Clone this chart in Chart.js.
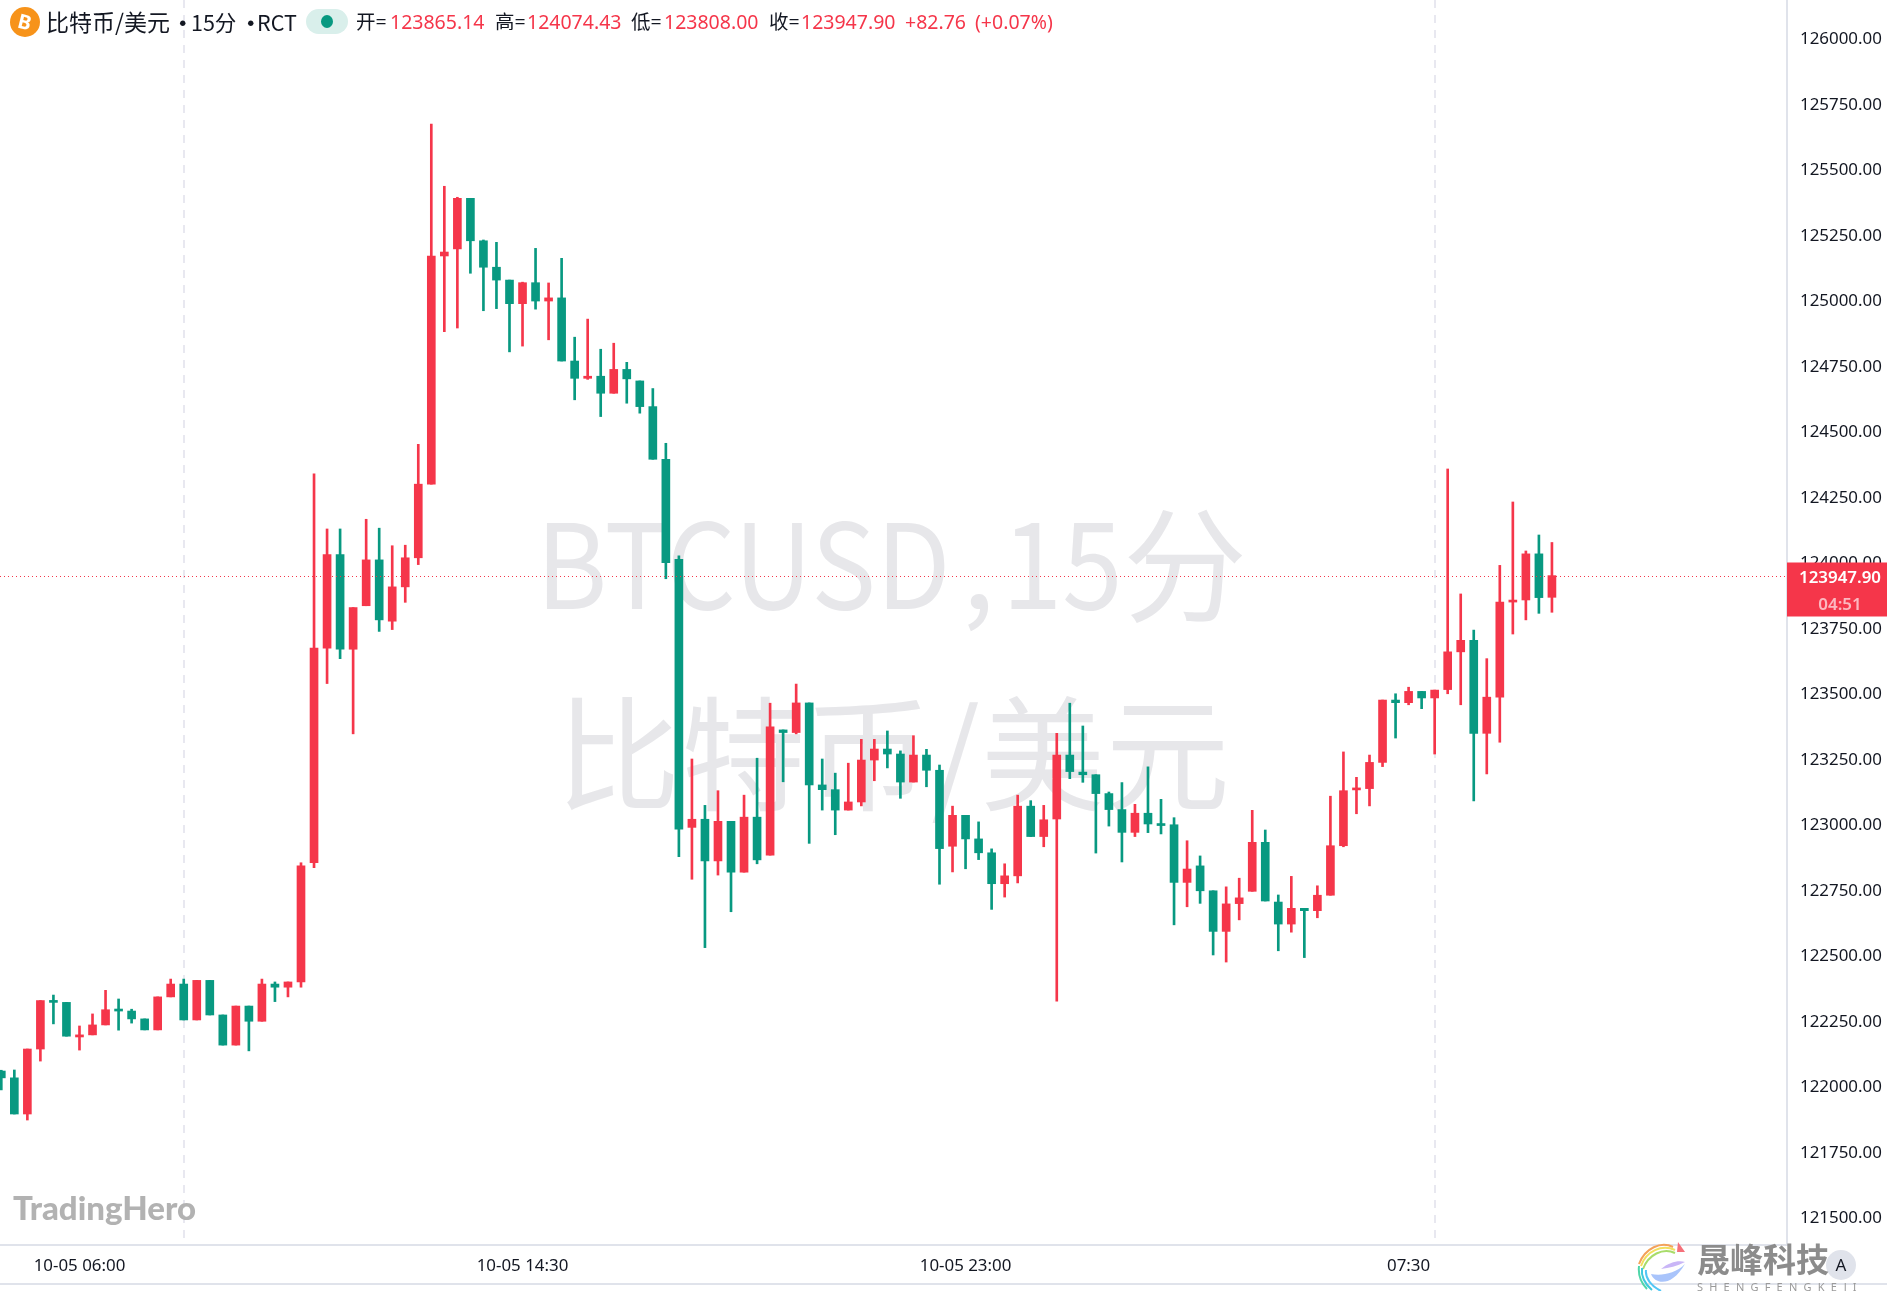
<!DOCTYPE html>
<html lang="zh">
<head>
<meta charset="utf-8">
<title>BTCUSD 15分</title>
<script src="https://cdn.jsdelivr.net/npm/chart.js@4/dist/chart.umd.min.js"></script>
<style>
  html, body { margin: 0; padding: 0; background: #fff; }
  #stage { position: relative; width: 1887px; height: 1291px; overflow: hidden; font-family: "Noto Sans", "Noto Sans CJK SC", sans-serif; }
  #stage > * { position: absolute; white-space: nowrap; }
  canvas { left: 0; top: 0; z-index: 1; }
  .wm { z-index: 0; font-family: "Noto Sans CJK SC", sans-serif; line-height: 140px; color: #e7e7ea; }
  .top { z-index: 2; top: 8px; font-size: 19.5px; line-height: 27px; color: #131722; }
  .name { font-size: 21.5px; font-family: "Noto Sans CJK SC", sans-serif; }
  .up { color: #f5364a; }
</style>
</head>
<body>
<div id="stage">
  <div class="wm" style="left:536px;top:488px;font-size:118px;transform:scaleX(0.92);transform-origin:left">BTCUSD</div>
  <div class="wm" style="left:962px;top:488px;font-size:118px">,</div>
  <div class="wm" style="left:1002px;top:488px;font-size:118px;transform:scaleX(0.92);transform-origin:left">15</div>
  <div class="wm" style="left:1123px;top:488px;font-size:124px">分</div>
  <div class="wm" style="left:0;width:1787px;text-align:center;top:677px;font-size:124px;letter-spacing:1px">比特币/美元</div>

  <canvas id="candles" width="1887" height="1291"></canvas>

  <div style="z-index:2;left:10px;top:7px;width:30px;height:30px;border-radius:50%;background:#f7931a;color:#fff;font:700 20px/30px 'Noto Sans';text-align:center"><span style="display:inline-block;transform:rotate(14deg)">B</span></div>
  <div class="top name" style="left:46px;font-size:23px">比特币/美元</div>
  <div class="top name" style="left:172px;font-weight:700">·</div>
  <div class="top name" style="left:191px">15分</div>
  <div class="top name" style="left:240px;font-weight:700">·</div>
  <div class="top name" style="left:257px">RCT</div>
  <div style="z-index:2;left:306px;top:9px;width:42px;height:25px;border-radius:13px;background:#d9efeb"></div>
  <div style="z-index:3;left:321px;top:15px;width:12px;height:13px;border-radius:50%;background:#089981"></div>
  <div class="top" style="left:356px">开=</div><div class="top up" style="left:390px">123865.14</div>
  <div class="top" style="left:495px">高=</div><div class="top up" style="left:527px">124074.43</div>
  <div class="top" style="left:631px">低=</div><div class="top up" style="left:664px">123808.00</div>
  <div class="top" style="left:769px">收=</div><div class="top up" style="left:801px">123947.90</div>
  <div class="top up" style="left:905px">+82.76</div>
  <div class="top up" style="left:975px">(+0.07%)</div>

  <div style="z-index:2;left:13px;top:1187px;font:900 33px/40px Lato;color:#b2b2b2">TradingHero</div>

  <div style="z-index:2;left:1826px;top:1250px;width:30px;height:30px;border-radius:50%;background:#e0e3eb;color:#131722;font-size:17px;line-height:30px;text-align:center">A</div>
  <svg style="z-index:3;left:1637px;top:1242px" width="52" height="49" viewBox="0 0 52 49" fill="none" stroke-width="2">
    <path d="M36 5 C24 -1 8 6 2 22" stroke="#f4a25a"/>
    <path d="M38 8 C25 2 9 9 4 24" stroke="#f2df5e"/>
    <path d="M38 11 C26 5 11 13 6 27" stroke="#a8dc6a"/>
    <path d="M2 24 C1 33 4 41 10 47" stroke="#4fd6a8"/>
    <path d="M5 26 C4 34 8 42 15 48" stroke="#3fc9dc"/>
    <path d="M9 28 C8 36 14 44 24 49" stroke="#52c6f5"/>
    <path d="M14 32 C18 42 34 46 48 22 C38 32 24 34 14 32Z" fill="#a9c4fb" stroke="none"/>
    <path d="M24 27 C32 26 40 24 48 20 C42 18 32 20 24 27Z" fill="#c9b6f7" stroke="none"/>
    <path d="M41 0 L48 10 L40 10Z" fill="#f5707a" stroke="none"/>
  </svg>
  <div style="z-index:3;left:1697px;top:1235px;font:700 33px/46px 'Noto Sans CJK SC';color:#8c8c8c">晟峰科技</div>
  <div style="z-index:3;left:1697px;top:1280px;font-size:11px;line-height:13px;letter-spacing:6.2px;color:#9a9a9a">SHENGFENGKEJI</div>
</div>

<script>
const openPrices = [
  122057, 122031, 121893, 122141, 122326, 122319, 122187, 122195, 122233, 122291,
  122286, 122256, 122214, 122340, 122389, 122252, 122403, 122271, 122156, 122305,
  122247, 122389, 122377, 122397, 122852, 123671, 124028, 123667, 123833, 124008,
  123774, 123905, 124016, 124297, 125168, 125195, 125388, 125226, 125125, 125076,
  124986, 125066, 124996, 125008, 124767, 124701, 124709, 124644, 124735, 124691,
  124593, 124392, 124010, 122987, 123018, 122859, 123010, 122816, 123026, 122881,
  123359, 123349, 123462, 123149, 123131, 123053, 123084, 123244, 123286, 123267,
  123160, 123263, 123205, 122915, 123033, 122943, 122890, 122772, 122802, 123068,
  122952, 123019, 123263, 123198, 123188, 123116, 123055, 122968, 123041, 123000,
  122997, 122777, 122840, 122745, 122590, 122696, 122743, 122930, 122702, 122618,
  122678, 122669, 122728, 122917, 123130, 123135, 123235, 123473, 123463, 123506,
  123481, 123513, 123657, 123701, 123346, 123484, 123847, 123855, 124031, 123865.14
];
const closePrices = [
  122031, 121893, 122141, 122326, 122319, 122190, 122195, 122233, 122291, 122286,
  122256, 122214, 122340, 122389, 122252, 122403, 122271, 122156, 122305, 122247,
  122389, 122377, 122397, 122840, 123671, 124028, 123667, 123826, 124008, 123779,
  123905, 124016, 124297, 125168, 125183, 125388, 125226, 125125, 125076, 124986,
  125066, 124996, 125008, 124767, 124701, 124709, 124644, 124735, 124699, 124593,
  124392, 123997, 122980, 123018, 122859, 123010, 122816, 123026, 122863, 123371,
  123349, 123462, 123149, 123131, 123053, 123084, 123244, 123286, 123267, 123160,
  123263, 123205, 122906, 123033, 122943, 122890, 122772, 122802, 123068, 122952,
  123016, 123263, 123200, 123188, 123116, 123055, 122968, 123041, 123000, 122994,
  122777, 122828, 122745, 122590, 122695, 122718, 122930, 122706, 122618, 122678,
  122669, 122728, 122917, 123127, 123134, 123235, 123473, 123463, 123506, 123481,
  123511, 123657, 123701, 123346, 123484, 123847, 123854, 124031, 123864, 123947.90
];
const highPrices = [
  122060, 122061, 122141, 122326, 122347, 122319, 122229, 122275, 122365, 122332,
  122293, 122256, 122340, 122408, 122408, 122403, 122403, 122271, 122305, 122305,
  122408, 122397, 122397, 122852, 124336, 124126, 124126, 123826, 124163, 124129,
  124062, 124064, 124449, 125671, 125434, 125392, 125388, 125229, 125220, 125076,
  125068, 125197, 125065, 125159, 124858, 124927, 124812, 124835, 124762, 124691,
  124662, 124453, 124023, 123248, 123071, 123127, 123010, 123110, 123251, 123461,
  123359, 123534, 123462, 123248, 123194, 123232, 123323, 123323, 123355, 123279,
  123337, 123285, 123225, 123068, 123033, 123008, 122905, 122848, 123110, 123089,
  123071, 123346, 123461, 123374, 123188, 123122, 123158, 123075, 123218, 123094,
  123024, 122936, 122878, 122745, 122760, 122793, 123052, 122977, 122729, 122800,
  122678, 122764, 123106, 123275, 123178, 123263, 123473, 123497, 123522, 123506,
  123511, 124355, 123878, 123740, 123631, 123987, 124229, 124042, 124103, 124074.43
];
const lowPrices = [
  121985, 121893, 121870, 122095, 122237, 122190, 122137, 122195, 122233, 122213,
  122240, 122214, 122214, 122340, 122252, 122252, 122271, 122156, 122156, 122134,
  122247, 122322, 122340, 122377, 122833, 123536, 123631, 123344, 123833, 123735,
  123742, 123846, 123990, 124297, 124879, 124893, 125102, 124959, 124967, 124802,
  124824, 124965, 124848, 124767, 124619, 124697, 124555, 124644, 124606, 124568,
  124392, 123936, 122875, 122789, 122528, 122805, 122665, 122816, 122848, 122881,
  123161, 123344, 122926, 123053, 122959, 123053, 123069, 123165, 123214, 123098,
  123160, 123142, 122770, 122817, 122829, 122864, 122674, 122721, 122775, 122952,
  122913, 122324, 123173, 123159, 122889, 122992, 122855, 122952, 122967, 122962,
  122615, 122684, 122697, 122500, 122473, 122634, 122743, 122706, 122516, 122587,
  122490, 122642, 122728, 122913, 123039, 123069, 123219, 123328, 123455, 123440,
  123267, 123497, 123455, 123088, 123191, 123312, 123725, 123779, 123804, 123808
];

const priceTicks = [
  121500, 121750, 122000, 122250, 122500, 122750, 123000, 123250, 123500,
  123750, 124000, 124250, 124500, 124750, 125000, 125250, 125500, 125750, 126000
];
const timeTickIndex = [6, 40, 74, 108];
const timeTickLabels = ['10-05 06:00', '10-05 14:30', '10-05 23:00', '07:30'];
const sessionLineIndex = [14, 110];
const lastPrice = 123947.90;
const countdown = '04:51';

const UP = '#f5364a';
const DOWN = '#089981';
const AXIS_LINE = '#e0e3eb';
const AXIS_TEXT = '#131722';
const AXIS_FONT = { family: '"Noto Sans", sans-serif', size: 16.9 };

const candleColors = closePrices.map((c, i) => (c >= openPrices[i] ? UP : DOWN));

// price line, last price tag and the line under the time axis
const overlayPlugin = {
  id: 'overlay',
  afterDraw(chart) {
    const { ctx, chartArea, scales } = chart;
    const y = Math.round(scales.y.getPixelForValue(lastPrice)) + 0.5;
    ctx.save();

    ctx.strokeStyle = UP;
    ctx.lineWidth = 1;
    ctx.setLineDash([1, 3]);
    ctx.beginPath();
    ctx.moveTo(chartArea.left, y);
    ctx.lineTo(chartArea.right, y);
    ctx.stroke();
    ctx.setLineDash([]);

    ctx.fillStyle = UP;
    ctx.fillRect(chartArea.right, y - 14, 100, 54);
    ctx.font = '600 16.9px "Noto Sans", sans-serif';
    ctx.fillStyle = '#fff';
    ctx.textBaseline = 'middle';
    ctx.textAlign = 'right';
    ctx.fillText(lastPrice.toFixed(2), 1881, y + 2);
    ctx.fillStyle = 'rgba(255,255,255,0.65)';
    ctx.textAlign = 'center';
    ctx.fillText(countdown, 1840, y + 29);

    ctx.strokeStyle = AXIS_LINE;
    ctx.lineWidth = 2;
    ctx.beginPath();
    ctx.moveTo(0, 1284);
    ctx.lineTo(1887, 1284);
    ctx.stroke();
    ctx.restore();
  }
};

new Chart(document.getElementById('candles'), {
  type: 'bar',
  data: {
    datasets: [
      {
        label: 'wick',
        data: highPrices.map((h, i) => ({ x: i, y: [lowPrices[i], h] })),
        backgroundColor: candleColors,
        barThickness: 2,
        grouped: false,
        order: 2
      },
      {
        label: 'body',
        data: openPrices.map((o, i) => ({ x: i, y: [o, closePrices[i]] })),
        backgroundColor: candleColors,
        barThickness: 8,
        minBarLength: 2,
        grouped: false,
        order: 1
      }
    ]
  },
  options: {
    responsive: false,
    animation: false,
    layout: { padding: 0 },
    plugins: { legend: { display: false }, tooltip: { enabled: false } },
    scales: {
      x: {
        type: 'linear',
        offset: false,
        min: -0.1,
        max: 137.04,
        afterBuildTicks: (scale) => {
          scale.ticks = timeTickIndex.concat(sessionLineIndex).sort((a, b) => a - b).map((value) => ({ value }));
        },
        afterFit: (scale) => {
          scale.height = 46;
          scale.paddingLeft = 0;
          scale.paddingRight = 0;
        },
        ticks: {
          autoSkip: false,
          maxRotation: 0,
          padding: 11,
          color: AXIS_TEXT,
          font: AXIS_FONT,
          callback: (value) => {
            const at = timeTickIndex.indexOf(value);
            return at === -1 ? '' : timeTickLabels[at];
          }
        },
        grid: {
          offset: false,
          drawTicks: false,
          lineWidth: 2,
          color: (c) => (c.tick && sessionLineIndex.includes(c.tick.value) ? '#e8e8f0' : 'rgba(0,0,0,0)')
        },
        border: { color: AXIS_LINE, width: 2, dash: [8, 7] }
      },
      y: {
        position: 'right',
        min: 121393,
        max: 126145,
        afterBuildTicks: (scale) => {
          scale.ticks = priceTicks.map((value) => ({ value }));
        },
        afterFit: (scale) => {
          scale.width = 100;
          scale.paddingTop = 0;
          scale.paddingBottom = 0;
        },
        ticks: {
          padding: 13,
          color: AXIS_TEXT,
          // small line height plus an empty first line nudges the label down a little
          font: { ...AXIS_FONT, lineHeight: '3px' },
          callback: (value) => ['', value.toFixed(2)]
        },
        grid: { display: false, drawTicks: false },
        border: { color: AXIS_LINE, width: 2 }
      }
    }
  },
  plugins: [overlayPlugin]
});
</script>
</body>
</html>
